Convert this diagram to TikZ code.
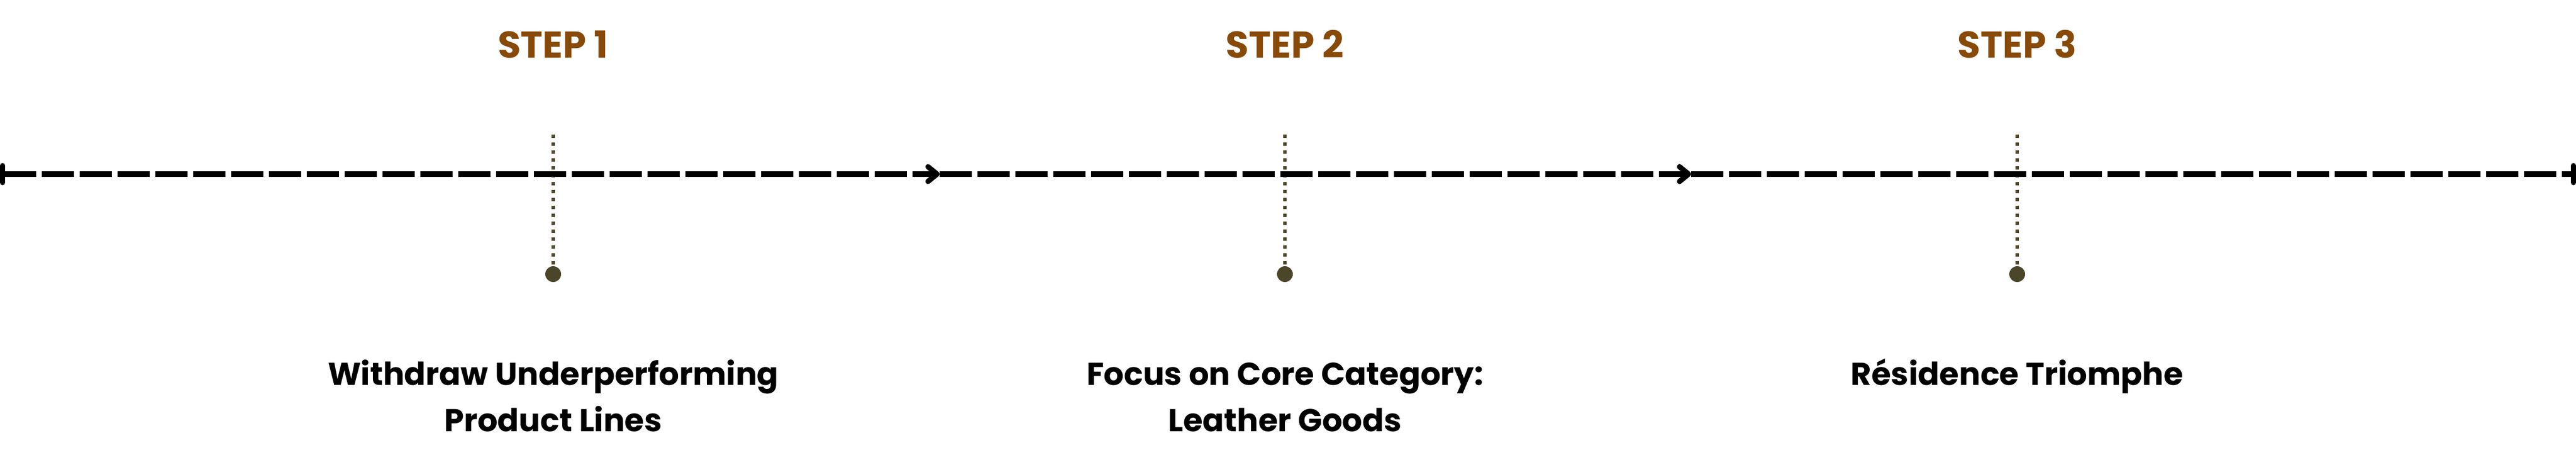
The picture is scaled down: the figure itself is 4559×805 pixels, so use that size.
\documentclass[tikz,border=0pt]{standalone}
\usepackage{fontspec}
\setmainfont{Poppins}
\usetikzlibrary{arrows.meta}
\definecolor{stepbrown}{HTML}{874A08}
\definecolor{olive}{HTML}{4B4529}
\tikzset{
  timeline/.style={line width=9.3pt, black, dash pattern=on 57pt off 10pt},
  chev/.style={-{Straight Barb[length=16pt,width=26pt,line cap=round,line join=round]}},
  steplabel/.style={anchor=base, inner sep=0pt, text=stepbrown, font=\fontsize{66}{70}\selectfont\bfseries},
  desc/.style={anchor=base, inner sep=0pt, align=center, text=black, font=\fontsize{56}{82}\selectfont\bfseries},
  leader/.style={olive, line width=6pt, dash pattern=on 6pt off 8pt},
  marker/.style={circle, fill=olive, draw=none, minimum size=28pt, inner sep=0pt}
}
\begin{document}
\begin{tikzpicture}[x=1pt,y=-1pt]
\useasboundingbox (0,0) rectangle (4559,805);
% timeline points
\coordinate (L) at (0,308);
\coordinate (A1) at (1663,308);
\coordinate (A2) at (2993,308);
\coordinate (R) at (4559,308);
% leaders and markers
\foreach \i/\x in {1/979,2/2274,3/3570}{
  \coordinate (top\i) at (\x,238);
  \node[marker] (dot\i) at (\x,485) {};
  \draw[leader] (top\i) -- (dot\i.center);
}
% timeline segments
\draw[timeline, {Bar[width=30pt,line cap=round]}-{Straight Barb[length=16pt,width=26pt,line cap=round,line join=round]}] (L) -- (A1);
\draw[timeline, chev] (A1) -- (A2);
\draw[timeline, -{Bar[width=30pt,line cap=round]}] (A2) -- (R);
% step labels
\node[steplabel] (s1) at (979,103) {STEP 1};
\node[steplabel] (s2) at (2274,103) {STEP 2};
\node[steplabel] (s3) at (3570,103) {STEP 3};
% descriptions (base anchor = last line's baseline)
\node[desc] (d1) at (979,763) {Withdraw Underperforming\\Product Lines};
\node[desc] (d2) at (2274,763) {Focus on Core Category:\\Leather Goods};
\node[desc] (d3) at (3570,681) {Résidence Triomphe};
\end{tikzpicture}
\end{document}
